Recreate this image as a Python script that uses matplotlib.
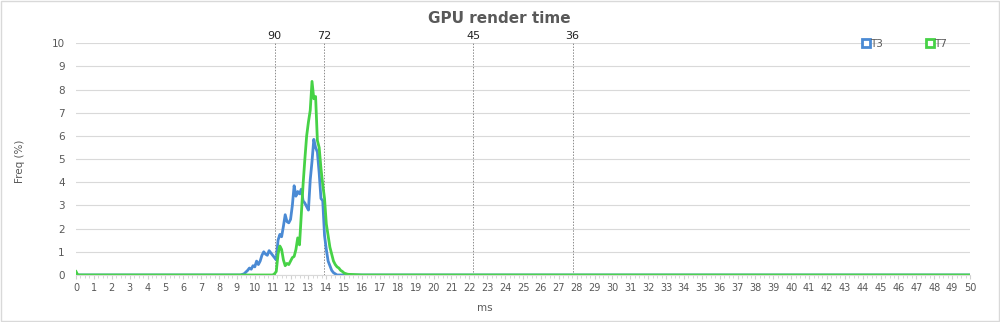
import matplotlib.pyplot as plt
from matplotlib.lines import Line2D
from matplotlib.patches import Rectangle

# frame time (ms) vs frequency (%)
t3_ms = [0, 9.2, 9.4, 9.6, 9.7, 9.8, 9.9, 10.0, 10.1, 10.2, 10.3, 10.4, 10.5, 10.6, 10.7,
         10.8, 10.9, 11.0, 11.1, 11.2, 11.3, 11.4, 11.5, 11.6, 11.7, 11.8, 11.9, 12.0, 12.1,
         12.2, 12.3, 12.4, 12.5, 12.6, 12.7, 12.8, 12.9, 13.0, 13.1, 13.2, 13.3, 13.4, 13.5,
         13.6, 13.7, 13.8, 13.9, 14.0, 14.1, 14.2, 14.3, 14.4, 14.5, 14.6, 50]
t3_freq = [0, 0, 0.05, 0.2, 0.3, 0.25, 0.4, 0.35, 0.6, 0.45, 0.6, 0.85, 1.0, 0.9, 0.85,
           1.05, 0.95, 0.85, 0.75, 0.65, 1.5, 1.75, 1.65, 2.1, 2.6, 2.3, 2.25, 2.4, 3.0,
           3.85, 3.4, 3.6, 3.5, 3.7, 3.2, 3.1, 2.95, 2.8, 4.1, 4.9, 5.85, 5.5, 5.3,
           4.4, 3.3, 3.2, 1.7, 1.1, 0.6, 0.4, 0.2, 0.1, 0.05, 0, 0]

t7_ms = [0, 0.1, 11.0, 11.1, 11.2, 11.3, 11.4, 11.5, 11.6, 11.7, 11.8, 11.9, 12.0, 12.1,
         12.2, 12.3, 12.4, 12.5, 12.6, 12.7, 12.8, 12.9, 13.0, 13.1, 13.2, 13.3, 13.4, 13.5,
         13.6, 13.7, 13.8, 13.9, 14.0, 14.1, 14.2, 14.3, 14.4, 14.5, 14.6, 14.7, 14.8, 14.9,
         15.0, 15.2, 16.0, 50]
t7_freq = [0.15, 0, 0, 0.05, 0.15, 0.9, 1.25, 1.1, 0.65, 0.4, 0.5, 0.45, 0.6, 0.75,
           0.8, 1.1, 1.6, 1.3, 2.6, 3.9, 5.0, 6.0, 6.6, 7.1, 8.35, 7.6, 7.7, 5.8,
           5.5, 4.6, 3.9, 3.3, 2.2, 1.7, 1.2, 0.9, 0.6, 0.45, 0.35, 0.3, 0.2, 0.15,
           0.08, 0.03, 0, 0]

fps_marks = [90, 72, 45, 36]

blue = '#4a8ad4'
green = '#46d246'
grey = '#595959'

fig = plt.figure(figsize=(10, 3.22), dpi=100)
ax = fig.add_axes([0.076, 0.146, 0.894, 0.72])

ax.plot(t3_ms, t3_freq, color=blue, lw=2.0, solid_joinstyle='round')
ax.plot(t7_ms, t7_freq, color=green, lw=2.0, solid_joinstyle='round')

for fps in fps_marks:
    x = 1000 / fps
    ax.axvline(x, color='#8c8c8c', lw=0.7, ls=(0, (1.5, 1.5)), zorder=1)
    ax.text(x, 10.08, str(fps), ha='center', va='bottom', fontsize=8, color='#222222')

ax.set_xlim(0, 50)
ax.set_ylim(0, 10)
ax.set_xticks(range(0, 51))
ax.set_yticks(range(0, 11))
ax.set_xticks([i * 0.25 for i in range(201)], minor=True)
ax.tick_params(axis='x', which='major', length=3, color='#d0d0d0', labelsize=7, labelcolor=grey, pad=3)
ax.tick_params(axis='x', which='minor', length=2, color='#d0d0d0')
ax.tick_params(axis='y', length=0, labelsize=7.5, labelcolor=grey, pad=8)
ax.grid(axis='y', color='#d9d9d9', lw=0.8)
ax.set_axisbelow(True)
for s in ['top', 'right', 'left']:
    ax.spines[s].set_visible(False)
ax.spines['bottom'].set_color('#d9d9d9')

fig.text(0.499, 0.943, 'GPU render time', ha='center', va='center',
         fontsize=11, fontweight='bold', color=grey)
fig.text(0.02, 0.5, 'Freq (%)', rotation=90, ha='center', va='center', fontsize=7.5, color=grey)
fig.text(0.485, 0.045, 'ms', ha='center', va='center', fontsize=7.5, color=grey)

handles = [Line2D([], [], ls='none', marker='s', ms=6, mfc='white', mec=blue, mew=2),
           Line2D([], [], ls='none', marker='s', ms=6, mfc='white', mec=green, mew=2)]
fig.legend(handles, ['T3', 'T7'], loc='center', bbox_to_anchor=(0.905, 1 - 44 / 322),
           ncol=2, frameon=False, handlelength=0.6, handletextpad=0.1, columnspacing=4.2,
           fontsize=7.5, labelcolor=grey)

fig.patches.append(Rectangle((0.001, 0.002), 0.998, 0.995, transform=fig.transFigure,
                             fill=False, ec='#d9d9d9', lw=1))

fig.savefig('out.png', dpi=100)
